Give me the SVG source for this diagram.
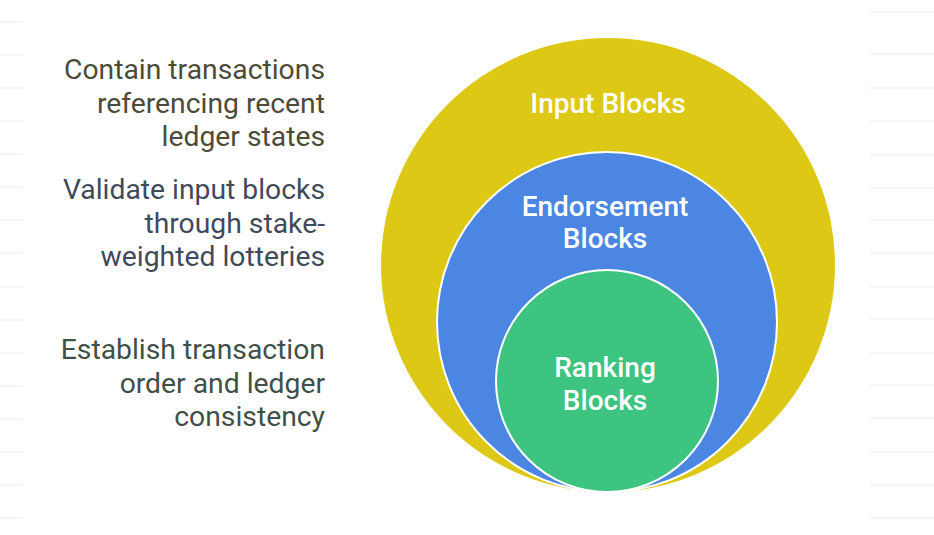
<svg xmlns="http://www.w3.org/2000/svg" width="934" height="535" viewBox="0 0 934 535">
  <style>
    .bg-line { stroke: #f4f4f4; stroke-width: 1.5; }
    .desc { font-family: Roboto, "Liberation Sans", sans-serif; font-size: 28.3px; text-anchor: end; }
    .lbl { font-family: Roboto, "Liberation Sans", sans-serif; font-size: 28px; font-weight: 500; fill: #ffffff; text-anchor: middle; }
    .ring { stroke: #ffffff; stroke-width: 2; }
  </style>
  <rect width="934" height="535" fill="#ffffff"/>
  <g id="background-lines">
    <path class="bg-line" d="M0 22H23M0 55H23M0 88H23M0 121H23M0 154H23M0 187H23M0 220H23M0 253H23M0 287H23M0 320H23M0 353H23M0 386H23M0 419H23M0 452H23M0 485H23M0 518H23"/>
    <path class="bg-line" d="M870 12H934M870 54H934M870 88H934M870 121H934M870 155H934M870 188H934M870 220H934M870 253H934M870 287H934M870 319H934M870 353H934M870 385H934M870 418H934M870 452H934M870 485H934M870 518H934"/>
  </g>
  <g id="connectors"></g>
  <g id="input-blocks">
    <circle cx="608" cy="265" r="227" fill="#dcc815"/>
    <text class="lbl" x="608" y="113">Input Blocks</text>
  </g>
  <g id="endorsement-blocks">
    <circle class="ring" cx="607" cy="322" r="170" fill="#4a86e2"/>
    <text class="lbl" x="605" y="216">Endorsement</text>
    <text class="lbl" x="605" y="248">Blocks</text>
  </g>
  <g id="ranking-blocks">
    <circle class="ring" cx="607" cy="381" r="111" fill="#3cc480"/>
    <text class="lbl" x="605" y="377">Ranking</text>
    <text class="lbl" x="605" y="410">Blocks</text>
  </g>
  <g id="desc-input" fill="#4d4b38">
    <text class="desc" x="325" y="79">Contain transactions</text>
    <text class="desc" x="325" y="113">referencing recent</text>
    <text class="desc" x="325" y="146">ledger states</text>
  </g>
  <g id="desc-endorsement" fill="#3f4a5c">
    <text class="desc" x="325" y="199">Validate input blocks</text>
    <text class="desc" x="325" y="233">through stake-</text>
    <text class="desc" x="325" y="266">weighted lotteries</text>
  </g>
  <g id="desc-ranking" fill="#3f5048">
    <text class="desc" x="325" y="359">Establish transaction</text>
    <text class="desc" x="325" y="393">order and ledger</text>
    <text class="desc" x="325" y="426">consistency</text>
  </g>
</svg>
